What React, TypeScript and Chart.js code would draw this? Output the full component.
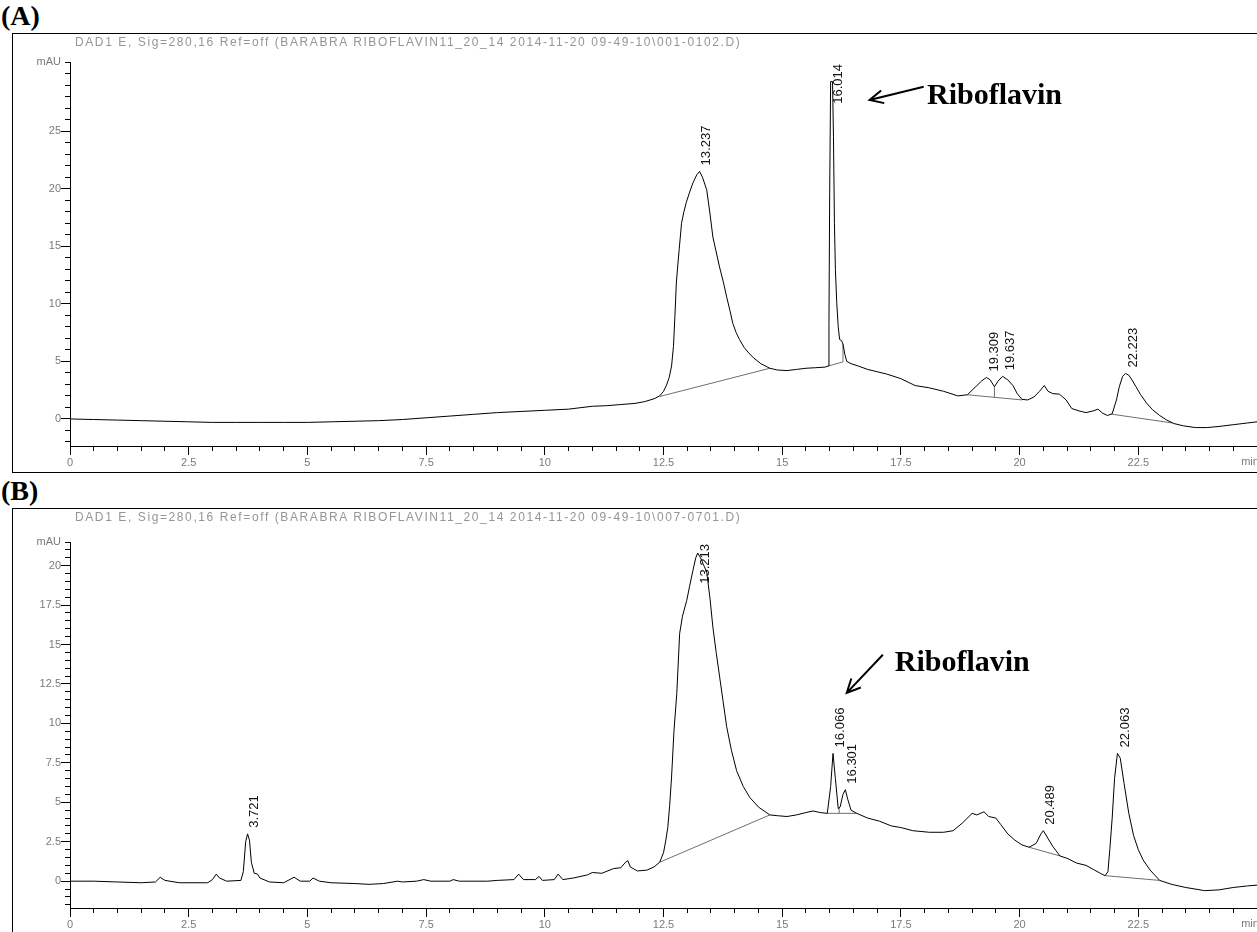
import React, { useEffect, useRef } from 'react';
import { Chart, registerables } from 'chart.js';

Chart.register(...registerables);

// ---------- data ----------
const X_TICK_LABELS = ['0', '2.5', '5', '7.5', '10', '12.5', '15', '17.5', '20', '22.5'];
const X_UNIT = 'min';
const Y_UNIT = 'mAU';
const A_Y_TICK_LABELS = ['0', '5', '10', '15', '20', '25'];
const B_Y_TICK_LABELS = ['0', '2.5', '5', '7.5', '10', '12.5', '15', '17.5', '20'];

const A_TITLE = 'DAD1 E, Sig=280,16 Ref=off (BARABRA RIBOFLAVIN11_20_14 2014-11-20 09-49-10\\001-0102.D)';
const B_TITLE = 'DAD1 E, Sig=280,16 Ref=off (BARABRA RIBOFLAVIN11_20_14 2014-11-20 09-49-10\\007-0701.D)';

const A_TIME = [0, 0.5, 1, 1.5, 2, 2.5, 3, 3.5, 4, 4.5, 5, 5.5, 6, 6.5, 7, 7.5, 8, 8.5, 9, 9.5, 10, 10.5, 11, 11.3, 11.6, 11.9, 12.1, 12.3, 12.42, 12.5, 12.56, 12.62, 12.67, 12.71, 12.74, 12.77, 12.8, 12.83, 12.88, 12.93, 12.98, 13.05, 13.12, 13.2, 13.26, 13.32, 13.41, 13.48, 13.54, 13.61, 13.68, 13.76, 13.83, 13.9, 13.96, 14.03, 14.1, 14.2, 14.3, 14.4, 14.55, 14.74, 14.9, 15.1, 15.3, 15.5, 15.7, 15.9, 15.97, 15.985, 16.0, 16.02, 16.06, 16.08, 16.1, 16.12, 16.15, 16.18, 16.21, 16.25, 16.28, 16.32, 16.36, 16.45, 16.6, 16.8, 17.0, 17.2, 17.5, 17.8, 18.1, 18.4, 18.7, 18.9, 19.0, 19.1, 19.2, 19.3, 19.38, 19.47, 19.55, 19.64, 19.75, 19.86, 19.95, 20.05, 20.17, 20.3, 20.42, 20.52, 20.6, 20.7, 20.84, 20.98, 21.1, 21.25, 21.4, 21.55, 21.65, 21.75, 21.85, 21.95, 22.04, 22.1, 22.17, 22.23, 22.3, 22.38, 22.45, 22.55, 22.67, 22.8, 22.95, 23.1, 23.25, 23.45, 23.7, 23.95, 24.2, 24.5, 24.8, 25];
const A_SIGNAL = [0, -0.05, -0.1, -0.15, -0.2, -0.25, -0.3, -0.3, -0.3, -0.3, -0.3, -0.25, -0.2, -0.15, -0.05, 0.1, 0.25, 0.4, 0.55, 0.65, 0.75, 0.85, 1.1, 1.15, 1.25, 1.35, 1.5, 1.75, 2.0, 2.4, 2.9, 3.6, 4.6, 6.3, 8.9, 11.8, 13.3, 14.7, 17.0, 18.0, 18.8, 19.7, 20.5, 21.2, 21.5, 21.0, 19.9, 17.8, 15.8, 14.5, 13.2, 11.9, 10.6, 9.4, 8.3, 7.5, 6.9, 6.2, 5.7, 5.3, 4.8, 4.4, 4.25, 4.2, 4.3, 4.4, 4.45, 4.5, 4.6, 8.3, 19.6, 29.3, 29.3, 24.5, 17.0, 13.0, 10.0, 8.0, 6.9, 6.8, 6.5, 5.6, 5.0, 4.8, 4.6, 4.3, 4.1, 3.9, 3.5, 2.9, 2.7, 2.4, 2.0, 2.1, 2.5, 2.9, 3.3, 3.6, 3.4, 2.8, 3.3, 3.7, 3.4, 2.9, 2.2, 1.7, 1.65, 1.9, 2.4, 2.9, 2.4, 2.2, 2.15, 1.65, 0.9, 0.7, 0.55, 0.7, 0.85, 0.5, 0.3, 0.45, 1.65, 2.8, 3.7, 3.95, 3.8, 3.3, 2.8, 2.1, 1.4, 0.8, 0.3, -0.1, -0.4, -0.6, -0.75, -0.75, -0.65, -0.5, -0.35, -0.25];

const B_TIME = [0, 0.5, 1.0, 1.5, 1.8, 1.9, 2.0, 2.3, 2.9, 3.0, 3.08, 3.15, 3.3, 3.6, 3.65, 3.7, 3.74, 3.78, 3.82, 3.88, 3.95, 4.0, 4.2, 4.5, 4.72, 4.85, 5.05, 5.12, 5.25, 5.5, 6.0, 6.3, 6.6, 6.9, 7.0, 7.3, 7.45, 7.6, 8.0, 8.07, 8.2, 8.8, 9.0, 9.35, 9.45, 9.55, 9.8, 9.88, 9.95, 10.2, 10.28, 10.38, 10.6, 10.9, 11.0, 11.2, 11.45, 11.6, 11.7, 11.75, 11.8, 11.95, 12.15, 12.3, 12.42, 12.5, 12.55, 12.59, 12.63, 12.67, 12.72, 12.78, 12.84, 12.9, 12.99, 13.05, 13.12, 13.18, 13.22, 13.28, 13.35, 13.41, 13.48, 13.54, 13.61, 13.68, 13.76, 13.83, 13.93, 14.04, 14.18, 14.32, 14.5, 14.74, 14.9, 15.1, 15.3, 15.5, 15.65, 15.8, 15.95, 16.02, 16.07, 16.12, 16.18, 16.22, 16.28, 16.33, 16.38, 16.45, 16.57, 16.8, 17.05, 17.3, 17.5, 17.75, 18.1, 18.4, 18.6, 18.8, 19.0, 19.1, 19.25, 19.35, 19.5, 19.6, 19.75, 19.9, 20.05, 20.2, 20.35, 20.45, 20.5, 20.58, 20.7, 20.85, 21.0, 21.2, 21.4, 21.55, 21.7, 21.8, 21.86, 21.9, 21.95, 22.0, 22.06, 22.12, 22.2, 22.3, 22.4, 22.5, 22.6, 22.75, 22.95, 23.2, 23.5, 23.9, 24.2, 24.5, 24.8, 25];
const B_SIGNAL = [0, 0, -0.05, -0.1, -0.05, 0.25, 0.05, -0.1, -0.1, 0.1, 0.45, 0.2, 0, 0.05, 0.6, 2.5, 3.0, 2.6, 1.2, 0.5, 0.45, 0.2, -0.05, -0.1, 0.25, 0.0, 0.0, 0.2, 0.0, -0.1, -0.15, -0.2, -0.15, 0.0, -0.05, 0.0, 0.1, 0.0, 0.0, 0.1, 0.0, 0.0, 0.05, 0.1, 0.45, 0.1, 0.1, 0.3, 0.05, 0.1, 0.45, 0.1, 0.2, 0.4, 0.55, 0.5, 0.8, 0.85, 1.2, 1.3, 0.9, 0.65, 0.7, 0.9, 1.2, 1.8, 2.6, 3.4, 4.8, 6.6, 9.5, 11.9, 15.7, 16.8, 17.8, 18.7, 19.7, 20.5, 20.8, 20.5, 20.0, 19.6, 17.9, 16.1, 14.5, 13.0, 11.3, 9.8, 8.3, 7.0, 6.0, 5.3, 4.7, 4.2, 4.15, 4.1, 4.2, 4.35, 4.45, 4.35, 4.3, 6.0, 8.1, 6.5, 4.6, 4.7, 5.5, 5.8, 5.2, 4.5, 4.3, 4.0, 3.8, 3.5, 3.4, 3.2, 3.1, 3.1, 3.2, 3.7, 4.3, 4.2, 4.4, 4.1, 4.0, 3.6, 3.0, 2.6, 2.3, 2.15, 2.4, 3.0, 3.2, 2.8, 2.2, 1.6, 1.45, 1.15, 1.0, 0.75, 0.5, 0.35, 0.6, 2.0, 4.0, 6.5, 8.1, 7.8, 6.2, 4.3, 2.9, 2.0, 1.35, 0.7, 0.05, -0.2, -0.4, -0.6, -0.55, -0.4, -0.3, -0.25];

// integration baselines / drop lines (null separates segments)
const A_BASE_TIME = [12.42, 14.74, null, 15.97, 16.28, 16.28, null, 18.9, 20.05, null, 19.47, 19.47, null, 21.93, 23.22];
const A_BASE_SIGNAL = [1.95, 4.4, null, 4.6, 4.95, 6.5, null, 2.1, 1.65, null, 1.88, 2.8, null, 0.42, -0.35];
const B_BASE_TIME = [12.42, 14.74, null, 15.95, 16.57, null, 16.2, 16.2, null, 20.2, 20.85, null, 21.8, 22.95];
const B_BASE_SIGNAL = [1.2, 4.2, null, 4.3, 4.3, null, 4.3, 4.65, null, 2.15, 1.6, null, 0.35, 0.05];

const A_PEAKS = ['13.237', '16.014', '19.309', '19.637', '22.223'];
const B_PEAKS = ['3.721', '13.213', '16.066', '16.301', '20.489', '22.063'];

const COMPOUND = 'Riboflavin';

type Arrow = { tipT: number; tipV: number; tailT: number; tailV: number; textT: number; textV: number };

type Panel = {
  letter: string;
  title: string;
  time: number[];
  signal: number[];
  baseT: (number | null)[];
  baseV: (number | null)[];
  peaks: string[];
  yLabels: string[];
  yMin: number;
  yMax: number;
  yMinor: number;
  arrow: Arrow;
  boxTop: number;
  canvasH: number;
  padTop: number;
  xAxisH: number;
};

const PANELS: Panel[] = [
  {
    letter: '(A)', title: A_TITLE, time: A_TIME, signal: A_SIGNAL, baseT: A_BASE_TIME, baseV: A_BASE_SIGNAL,
    peaks: A_PEAKS, yLabels: A_Y_TICK_LABELS, yMin: -2.35, yMax: 31, yMinor: 1,
    arrow: { tipT: 16.84, tipV: 27.7, tailT: 17.98, tailV: 28.85, textT: 18.05, textV: 28.0 },
    boxTop: 33, canvasH: 438, padTop: 28, xAxisH: 26,
  },
  {
    letter: '(B)', title: B_TITLE, time: B_TIME, signal: B_SIGNAL, baseT: B_BASE_TIME, baseV: B_BASE_SIGNAL,
    peaks: B_PEAKS, yLabels: B_Y_TICK_LABELS, yMin: -1.7, yMax: 21.5, yMinor: 0.5,
    arrow: { tipT: 16.36, tipV: 11.94, tailT: 17.12, tailV: 14.35, textT: 17.37, textV: 13.84 },
    boxTop: 508, canvasH: 423, padTop: 33, xAxisH: 24,
  },
];

const TICK_FONT = { size: 11, family: 'Arial, "Liberation Sans", sans-serif' };
const TICK_COLOR = '#7a7a7a';

function align(px: number) {
  return Math.round(px - 0.5) + 0.5;
}

function makeAnnotPlugin(p: Panel) {
  return {
    id: 'chromAnnot' + p.letter,
    afterDatasetsDraw(chart: any) {
      const { ctx, chartArea } = chart;
      const xs = chart.scales.x;
      const ys = chart.scales.y;
      ctx.save();
      // longer major ticks
      ctx.strokeStyle = '#000';
      ctx.lineWidth = 1;
      for (const lab of X_TICK_LABELS) {
        const px = align(xs.getPixelForValue(parseFloat(lab)));
        ctx.beginPath();
        ctx.moveTo(px, chartArea.bottom + 5);
        ctx.lineTo(px, chartArea.bottom + 9);
        ctx.stroke();
      }
      for (const lab of p.yLabels) {
        const py = align(ys.getPixelForValue(parseFloat(lab)));
        ctx.beginPath();
        ctx.moveTo(chartArea.left - 5, py);
        ctx.lineTo(chartArea.left - 9, py);
        ctx.stroke();
      }
      // unit label for x axis
      ctx.fillStyle = TICK_COLOR;
      ctx.font = `${TICK_FONT.size}px ${TICK_FONT.family}`;
      ctx.textAlign = 'center';
      ctx.textBaseline = 'top';
      ctx.fillText(X_UNIT, xs.getPixelForValue(25) - 7, chartArea.bottom + 10);

      // peak retention-time labels
      ctx.fillStyle = '#111';
      ctx.font = '13px Arial, "Liberation Sans", sans-serif';
      ctx.textAlign = 'left';
      ctx.textBaseline = 'middle';
      for (const lab of p.peaks) {
        const rt = parseFloat(lab);
        let best = -Infinity;
        for (let i = 0; i < p.time.length; i++) {
          if (Math.abs(p.time[i] - rt) <= 0.08 && p.signal[i] > best) best = p.signal[i];
        }
        const w = ctx.measureText(lab).width;
        const cx = xs.getPixelForValue(rt) + 8;
        let bottom = ys.getPixelForValue(best) - 6;
        if (bottom - w < chartArea.top + 2) bottom = chartArea.top + 2 + w;
        ctx.save();
        ctx.translate(cx, bottom);
        ctx.rotate(-Math.PI / 2);
        ctx.fillText(lab, 0, 0);
        ctx.restore();
      }

      // riboflavin arrow
      const a = p.arrow;
      const tx = xs.getPixelForValue(a.tipT);
      const ty = ys.getPixelForValue(a.tipV);
      const sx = xs.getPixelForValue(a.tailT);
      const sy = ys.getPixelForValue(a.tailV);
      ctx.strokeStyle = '#000';
      ctx.lineWidth = 2;
      ctx.beginPath();
      ctx.moveTo(sx, sy);
      ctx.lineTo(tx, ty);
      const ang = Math.atan2(sy - ty, sx - tx);
      const hl = 15;
      ctx.moveTo(tx + hl * Math.cos(ang + 0.45), ty + hl * Math.sin(ang + 0.45));
      ctx.lineTo(tx, ty);
      ctx.lineTo(tx + hl * Math.cos(ang - 0.45), ty + hl * Math.sin(ang - 0.45));
      ctx.stroke();
      ctx.fillStyle = '#000';
      ctx.font = 'bold 30px "Times New Roman", "Liberation Serif", serif';
      ctx.textAlign = 'left';
      ctx.textBaseline = 'middle';
      ctx.fillText(COMPOUND, xs.getPixelForValue(a.textT), ys.getPixelForValue(a.textV));
      ctx.restore();
    },
  };
}

function ChromPanel({ p }: { p: Panel }) {
  const ref = useRef<HTMLCanvasElement | null>(null);
  useEffect(() => {
    if (!ref.current) return;
    const majorX = X_TICK_LABELS.map((s) => parseFloat(s));
    const majorY = p.yLabels.map((s) => parseFloat(s));
    const xTicks: number[] = [];
    for (let v = 0; v < 25 - 1e-9; v += 0.5) xTicks.push(Math.round(v * 10) / 10);
    const yTicks: number[] = [];
    const start = Math.ceil(p.yMin / p.yMinor) * p.yMinor;
    for (let v = start; v <= p.yMax + 1e-9; v += p.yMinor) yTicks.push(Math.round(v * 100) / 100);
    const near = (arr: number[], v: number) => arr.find((m) => Math.abs(m - v) < 1e-6);

    const chart = new Chart(ref.current, {
      type: 'line',
      data: {
        datasets: [
          {
            data: p.time.map((t, i) => ({ x: t, y: p.signal[i] })),
            borderColor: '#000',
            borderWidth: 1,
            pointRadius: 0,
            tension: 0,
          },
          {
            data: p.baseT.map((t, i) => ({ x: t as any, y: p.baseV[i] as any })),
            borderColor: '#6e6e6e',
            borderWidth: 1,
            pointRadius: 0,
            tension: 0,
            spanGaps: false,
          },
        ],
      },
      options: {
        responsive: false,
        animation: false,
        events: [],
        layout: { padding: { top: p.padTop, right: 0, left: 0, bottom: 0 } },
        plugins: { legend: { display: false }, tooltip: { enabled: false }, title: { display: false } },
        scales: {
          x: {
            type: 'linear',
            min: 0,
            max: 25,
            border: { display: true, color: '#000', width: 1 },
            grid: { display: true, drawOnChartArea: false, drawTicks: true, tickLength: 5, color: '#000', tickColor: '#000' },
            ticks: {
              autoSkip: false,
              maxRotation: 0,
              minRotation: 0,
              padding: 5,
              color: TICK_COLOR,
              font: TICK_FONT,
              callback: (v: any) => {
                const m = near(majorX, Number(v));
                return m === undefined ? '' : X_TICK_LABELS[majorX.indexOf(m)];
              },
            },
            afterBuildTicks: (s: any) => {
              s.ticks = xTicks.map((v) => ({ value: v }));
            },
            afterFit: (s: any) => {
              s.height = p.xAxisH;
            },
          },
          y: {
            type: 'linear',
            min: p.yMin,
            max: p.yMax,
            border: { display: true, color: '#000', width: 1 },
            grid: { display: true, drawOnChartArea: false, drawTicks: true, tickLength: 5, color: '#000', tickColor: '#000' },
            ticks: {
              autoSkip: false,
              padding: 4,
              color: TICK_COLOR,
              font: TICK_FONT,
              callback: (v: any) => {
                const n = Number(v);
                if (Math.abs(n - p.yMax) < 1e-6) return Y_UNIT;
                const m = near(majorY, n);
                return m === undefined ? '' : p.yLabels[majorY.indexOf(m)];
              },
            },
            afterBuildTicks: (s: any) => {
              s.ticks = yTicks.map((v) => ({ value: v }));
            },
            afterFit: (s: any) => {
              s.width = 57;
            },
          },
        },
      },
      plugins: [makeAnnotPlugin(p)],
    } as any);
    return () => chart.destroy();
  }, [p]);

  return (
    <>
      <div
        style={{
          position: 'absolute', left: 1, top: p.boxTop - 33,
          fontFamily: '"Times New Roman", "Liberation Serif", serif', fontWeight: 'bold', fontSize: 28, lineHeight: '32px',
        }}
      >
        {p.letter}
      </div>
      <div
        style={{
          position: 'absolute', left: 12, top: p.boxTop, width: 1260, height: 440,
          border: '1px solid #000', boxSizing: 'border-box',
        }}
      />
      <canvas
        ref={ref}
        width={1244}
        height={p.canvasH}
        style={{ position: 'absolute', left: 13, top: p.boxTop + 1, width: 1244, height: p.canvasH }}
      />
      <div
        style={{
          position: 'absolute', left: 75, top: p.boxTop + 2, fontFamily: 'Arial, "Liberation Sans", sans-serif',
          fontSize: 12, lineHeight: '14px', color: '#959595', whiteSpace: 'nowrap', letterSpacing: '1.6px',
        }}
      >
        {p.title}
      </div>
    </>
  );
}

export default function App() {
  useEffect(() => {
    document.body.style.margin = '0';
    document.body.style.overflow = 'hidden';
  }, []);
  return (
    <div style={{ position: 'absolute', left: 0, top: 0, width: 1257, height: 932, overflow: 'hidden', background: '#fff' }}>
      {PANELS.map((p) => (
        <ChromPanel key={p.letter} p={p} />
      ))}
    </div>
  );
}
